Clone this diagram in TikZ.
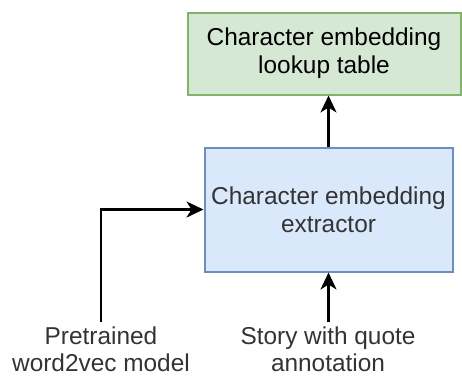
\documentclass[tikz,border=0pt]{standalone}
\usepackage{fontspec}
\setmainfont{Liberation Sans}
\usetikzlibrary{arrows.meta}

\definecolor{lookupfill}{HTML}{D5E8D4}
\definecolor{lookupline}{HTML}{82B366}
\definecolor{extractfill}{HTML}{DAE8FC}
\definecolor{extractline}{HTML}{6C8EBF}
\definecolor{textgray}{HTML}{333333}

\begin{document}
\begin{tikzpicture}[x=1pt,y=-1pt,
	box/.style={draw, line width=2pt, align=center, inner sep=0pt,
		font=\fontsize{24.4}{28}\selectfont},
	inputtext/.style={align=center, inner xsep=0pt, inner ysep=5pt, text=textgray,
		font=\fontsize{24.4}{27}\selectfont},
	flow/.style={line width=2.5pt, -{Stealth[length=17pt,width=16pt,inset=5pt]}}]
	\useasboundingbox (0,0) rectangle (462,376);

	% boxes
	\node[box, fill=lookupfill, draw=lookupline, minimum width=273pt, minimum height=82pt]
		(lookup) at (324,53.5) {Character embedding\\lookup table};
	\node[box, fill=extractfill, draw=extractline, text=textgray, minimum width=248pt, minimum height=124pt]
		(extractor) at (328.5,209.5) {Character embedding\\extractor};

	% inputs
	\node[inputtext, anchor=north] (word2vec) at (101,322) {Pretrained\\word2vec model};
	\node[inputtext, anchor=north] (story) at (328,322) {Story with quote\\annotation};

	% arrows
	\draw[flow] (extractor.north) -- (extractor.north |- lookup.south);
	\draw[flow] (story.north -| extractor.south) -- (extractor.south);
	\draw[flow] (word2vec.north) |- (extractor.west);
\end{tikzpicture}
\end{document}
